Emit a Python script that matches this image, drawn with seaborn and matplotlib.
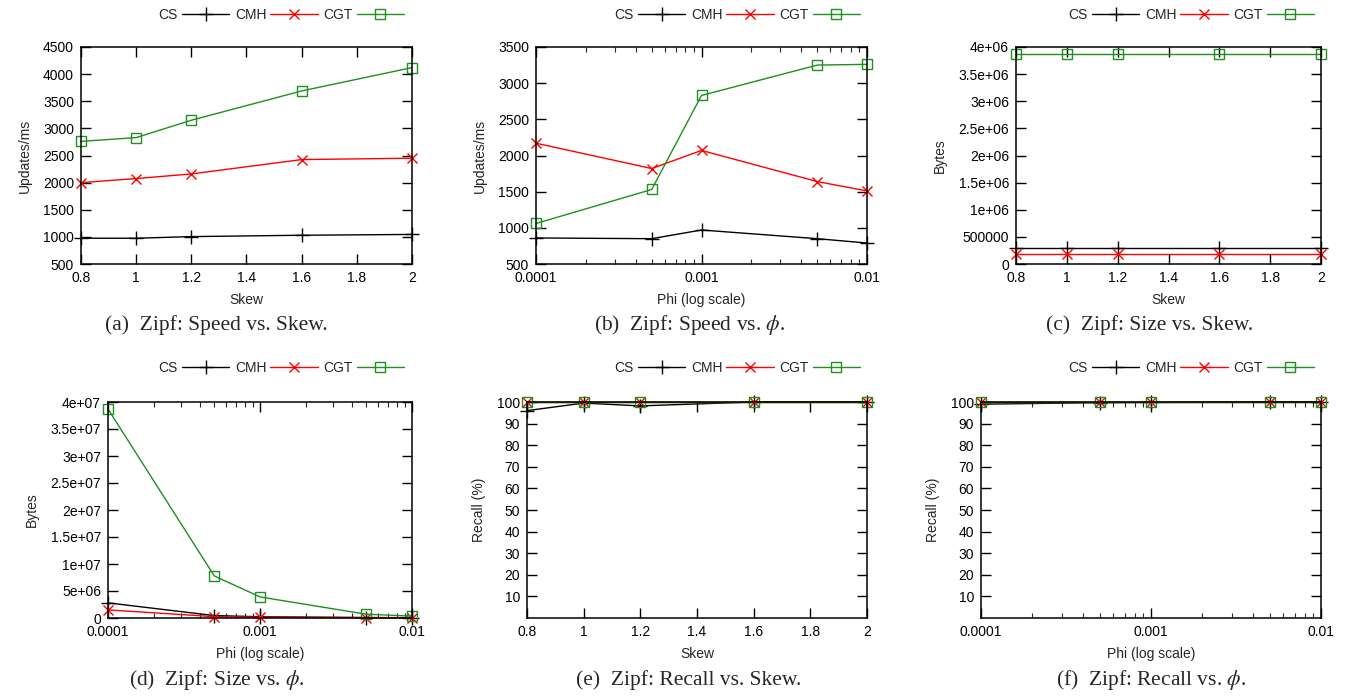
import matplotlib
matplotlib.use("Agg")
import matplotlib.pyplot as plt
import matplotlib.ticker as mticker
import seaborn as sns
import numpy as np

sns.set_theme(style="ticks")
plt.rcParams['font.family'] = ['Liberation Sans', 'DejaVu Sans']
plt.rcParams['mathtext.fontset'] = 'stix'

# ---------------- data ----------------
skew = [0.8, 1.0, 1.2, 1.6, 2.0]
phi = [0.0001, 0.0005, 0.001, 0.005, 0.01]

speed_skew_cs = [975, 975, 1005, 1030, 1045]
speed_skew_cmh = [2000, 2075, 2160, 2425, 2450]
speed_skew_cgt = [2760, 2830, 3150, 3690, 4120]

speed_phi_cs = [860, 850, 970, 850, 790]
speed_phi_cmh = [2170, 1820, 2070, 1640, 1510]
speed_phi_cgt = [1060, 1530, 2830, 3250, 3260]

size_skew_cs = [300000, 300000, 300000, 300000, 300000]
size_skew_cmh = [180000, 180000, 180000, 180000, 180000]
size_skew_cgt = [3870000, 3870000, 3870000, 3870000, 3870000]

size_phi_cs = [2800000, 450000, 230000, 90000, 50000]
size_phi_cmh = [1500000, 250000, 150000, 50000, 30000]
size_phi_cgt = [38700000, 7800000, 3900000, 700000, 350000]

recall_skew_cs = [96, 99.5, 98.2, 100, 100]
recall_skew_cmh = [100, 100, 100, 100, 100]
recall_skew_cgt = [100, 100, 100, 100, 100]

recall_phi_cs = [99, 99.7, 99.8, 100, 100]
recall_phi_cmh = [100, 100, 100, 100, 100]
recall_phi_cgt = [100, 100, 100, 100, 100]

series_names = ["CS", "CMH", "CGT"]

captions = ["(a)  Zipf: Speed vs. Skew.", r"(b)  Zipf: Speed vs. $\phi$.",
            "(c)  Zipf: Size vs. Skew.", r"(d)  Zipf: Size vs. $\phi$.",
            "(e)  Zipf: Recall vs. Skew.", r"(f)  Zipf: Recall vs. $\phi$."]

# ---------------- styling ----------------
W, H = 1346, 698
fig = plt.figure(figsize=(W / 100, H / 100), dpi=100)

colors = ["black", "#ff0000", "#1f8f1f"]
markers = ["+", "x", "s"]
msizes = [10, 6.5, 6.5]


def px_axes(l, r, t, b):
    return fig.add_axes([l / W, 1 - b / H, (r - l) / W, (b - t) / H])


boxes = [(81, 412, 47, 264), (536, 867, 47, 264), (1016, 1321, 47, 264),
         (108, 412, 402, 618), (527, 867, 402, 618), (981, 1321, 402, 618)]
legend_right = [404, 860, 1314, 404, 860, 1314]
legend_y = [15, 15, 15, 368, 368, 368]
cap_x = [216, 690, 1150, 217, 689, 1151]
cap_y = [325, 325, 325, 680, 680, 680]

panels = [
    (skew, [speed_skew_cs, speed_skew_cmh, speed_skew_cgt], "Skew", "Updates/ms"),
    (phi, [speed_phi_cs, speed_phi_cmh, speed_phi_cgt], "Phi (log scale)", "Updates/ms"),
    (skew, [size_skew_cs, size_skew_cmh, size_skew_cgt], "Skew", "Bytes"),
    (phi, [size_phi_cs, size_phi_cmh, size_phi_cgt], "Phi (log scale)", "Bytes"),
    (skew, [recall_skew_cs, recall_skew_cmh, recall_skew_cgt], "Skew", "Recall (%)"),
    (phi, [recall_phi_cs, recall_phi_cmh, recall_phi_cgt], "Phi (log scale)", "Recall (%)"),
]

for i, (xs, ys_list, xl, yl) in enumerate(panels):
    ax = px_axes(*boxes[i])
    for name, ys, c, m, ms in zip(series_names, ys_list, colors, markers, msizes):
        sns.lineplot(x=xs, y=ys, ax=ax, color=c, marker=m, markersize=ms,
                     markerfacecolor='none' if m == 's' else c,
                     markeredgecolor=c, markeredgewidth=1.0, linewidth=1.0,
                     label=name, clip_on=False, zorder=3)
    if xs is phi:
        ax.set_xscale('log')
        ax.set_xlim(0.0001, 0.01)
        ax.xaxis.set_major_locator(mticker.FixedLocator([0.0001, 0.001, 0.01]))
        ax.xaxis.set_major_formatter(mticker.FixedFormatter(["0.0001", "0.001", "0.01"]))
        ax.xaxis.set_minor_locator(mticker.LogLocator(base=10, subs=np.arange(2, 10)))
        ax.xaxis.set_minor_formatter(mticker.NullFormatter())
    else:
        ax.set_xlim(0.8, 2.0)
        xt = [0.8, 1.0, 1.2, 1.4, 1.6, 1.8, 2.0]
        ax.xaxis.set_major_locator(mticker.FixedLocator(xt))
        ax.xaxis.set_major_formatter(mticker.FixedFormatter(["0.8", "1", "1.2", "1.4", "1.6", "1.8", "2"]))
    if i == 0:
        ax.set_ylim(500, 4500)
        yt = list(range(500, 4501, 500))
        ax.yaxis.set_major_locator(mticker.FixedLocator(yt))
        ax.yaxis.set_major_formatter(mticker.FixedFormatter([str(v) for v in yt]))
    elif i == 1:
        ax.set_ylim(500, 3500)
        yt = list(range(500, 3501, 500))
        ax.yaxis.set_major_locator(mticker.FixedLocator(yt))
        ax.yaxis.set_major_formatter(mticker.FixedFormatter([str(v) for v in yt]))
    elif i == 2:
        ax.set_ylim(0, 4e6)
        yt = [0, 5e5, 1e6, 1.5e6, 2e6, 2.5e6, 3e6, 3.5e6, 4e6]
        ax.yaxis.set_major_locator(mticker.FixedLocator(yt))
        ax.yaxis.set_major_formatter(mticker.FixedFormatter(
            ["0", "500000", "1e+06", "1.5e+06", "2e+06", "2.5e+06", "3e+06", "3.5e+06", "4e+06"]))
    elif i == 3:
        ax.set_ylim(0, 4e7)
        yt = [0, 5e6, 1e7, 1.5e7, 2e7, 2.5e7, 3e7, 3.5e7, 4e7]
        ax.yaxis.set_major_locator(mticker.FixedLocator(yt))
        ax.yaxis.set_major_formatter(mticker.FixedFormatter(
            ["0", "5e+06", "1e+07", "1.5e+07", "2e+07", "2.5e+07", "3e+07", "3.5e+07", "4e+07"]))
    else:
        ax.set_ylim(0, 100)
        yt = list(range(10, 101, 10))
        ax.yaxis.set_major_locator(mticker.FixedLocator(yt))
        ax.yaxis.set_major_formatter(mticker.FixedFormatter([str(v) for v in yt]))

    for s in ax.spines.values():
        s.set_visible(True)
        s.set_linewidth(1.1)
        s.set_color('black')
        s.set_zorder(4)
    ax.tick_params(which='major', direction='in', length=7, width=1.0,
                   top=True, right=True, labelsize=10, colors='black', pad=5)
    ax.tick_params(which='minor', direction='in', length=3.5, width=0.8,
                   top=True, right=True)
    ax.set_xlabel(xl, fontsize=10, labelpad=6)
    ax.set_ylabel(yl, fontsize=10, labelpad=8)
    ax.grid(False)
    ax.set_facecolor('white')

    ax.legend(loc='center right',
              bbox_to_anchor=(legend_right[i] / W, 1 - legend_y[i] / H),
              bbox_transform=fig.transFigure, ncol=3, frameon=False,
              markerfirst=False, fontsize=10, handlelength=3.4,
              columnspacing=0.4, handletextpad=0.3, borderpad=0, borderaxespad=0)

    fig.text(cap_x[i] / W, 1 - cap_y[i] / H, captions[i], ha='center', va='center',
             fontsize=15.5, family=['Liberation Serif', 'DejaVu Serif'])

fig.savefig("out.png", dpi=100, facecolor='white')
